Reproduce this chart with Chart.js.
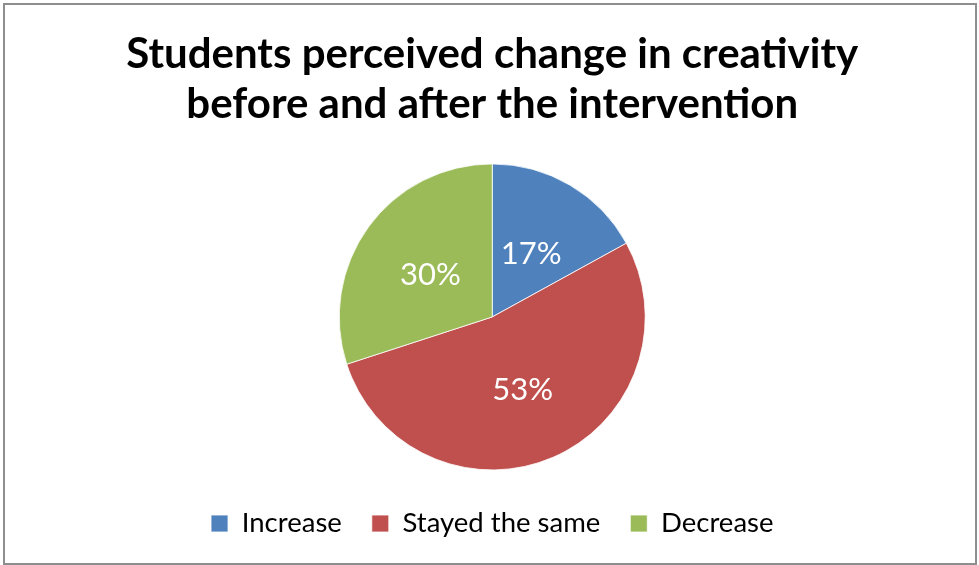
<!DOCTYPE html>
<html>
<head>
<meta charset="utf-8">
<script src="https://cdn.jsdelivr.net/npm/chart.js@4/dist/chart.umd.min.js"></script>
<style>
  html, body { margin: 0; padding: 0; background: #fff; }
  #wrap { position: relative; width: 979px; height: 565px; }
  #frame {
    position: absolute; left: 3px; top: 3px; width: 970px; height: 558px;
    border: 2px solid #8e8e8e; pointer-events: none;
  }
  canvas { position: absolute; left: 0; top: 0; }
</style>
</head>
<body>
<div id="wrap">
  <canvas id="chart" width="979" height="565"></canvas>
  <div id="frame"></div>
</div>
<script>
// Survey responses: how students rated their change in creativity
const titleLines = ['Students perceived change in creativity', 'before and after the intervention'];
const categories = ['Increase', 'Stayed the same', 'Decrease'];
const shares = [17, 53, 30];
const sliceColors = ['#4F81BD', '#C0504D', '#9BBB59'];

// Writes each slice's percentage in white at the middle of its arc
const sliceLabels = {
  id: 'sliceLabels',
  afterDatasetsDraw(chart) {
    const ctx = chart.ctx;
    const meta = chart.getDatasetMeta(0);
    const values = chart.data.datasets[0].data;
    ctx.save();
    ctx.font = '31px Lato, "Liberation Sans", sans-serif';
    ctx.fillStyle = '#ffffff';
    ctx.textAlign = 'center';
    ctx.textBaseline = 'middle';
    meta.data.forEach((arc, i) => {
      const p = arc.getCenterPoint();
      // nudge down slightly so the digits sit optically centred
      ctx.fillText(values[i] + '%', p.x, p.y + 3);
    });
    ctx.restore();
  }
};

new Chart(document.getElementById('chart'), {
  type: 'pie',
  data: {
    labels: categories,
    datasets: [{
      data: shares,
      backgroundColor: sliceColors,
      borderColor: '#ffffff',
      borderWidth: 0.8,
      radius: 153
    }]
  },
  options: {
    responsive: false,
    animation: false,
    layout: { padding: { top: 0, bottom: 17.75, left: 5.5, right: 0 } },
    plugins: {
      title: {
        display: true,
        text: titleLines,
        color: '#000000',
        font: { family: 'Lato, "Liberation Sans", sans-serif', size: 42, weight: 'bold', lineHeight: 1.18 },
        padding: { top: 30, bottom: 25 }
      },
      legend: {
        position: 'bottom',
        labels: {
          color: '#000000',
          font: { family: 'Lato, "Liberation Sans", sans-serif', size: 27.5 },
          boxWidth: 17,
          boxHeight: 17,
          padding: 30
        }
      },
      tooltip: { enabled: false }
    }
  },
  plugins: [sliceLabels]
});
</script>
</body>
</html>
